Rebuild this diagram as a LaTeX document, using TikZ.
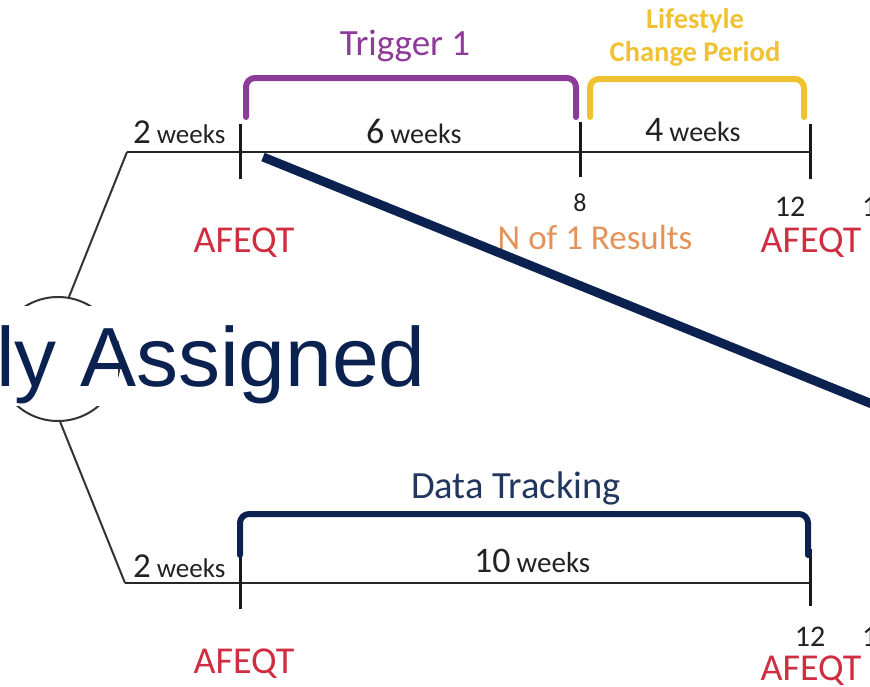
\documentclass[tikz,border=0pt]{standalone}
\usepackage{fontspec}
\setmainfont{Carlito}
\newfontfamily\arialf{Liberation Sans}
\definecolor{navy}{HTML}{0B2250}
\definecolor{navytxt}{HTML}{22375F}
\definecolor{trigpurple}{HTML}{8E3A98}
\definecolor{lifeyellow}{HTML}{F0C232}
\definecolor{afeqtred}{HTML}{CF2E40}
\definecolor{resorange}{HTML}{E3935A}
\definecolor{txtgrey}{HTML}{222222}
\newcommand{\fs}[1]{\fontsize{#1}{#1}\selectfont}
\tikzset{
  tline/.style={line width=2.5pt, black!85},
  tick/.style={line width=3pt, black!90},
  bracketline/.style={line width=6pt, rounded corners=9pt, line cap=round},
  wk/.style={anchor=base west, inner sep=0pt, text=txtgrey},
  lab/.style={anchor=base, inner sep=0pt},
}
\begin{document}
\begin{tikzpicture}[x=1pt,y=-1pt]
\useasboundingbox (0,0) rectangle (870,686);
\fill[white] (0,0) rectangle (870,686);
% coordinates
\coordinate (tA) at (127,152);
\coordinate (t2) at (240,152);
\coordinate (t8) at (580,152);
\coordinate (t12) at (810,152);
\coordinate (bA) at (125,583);
\coordinate (b2) at (240,583);
\coordinate (b12) at (810,583);
% circle
\node (circ) [circle, draw=black!80, line width=2pt, minimum size=124pt, inner sep=0pt] at (58,359) {};
\draw[line width=2pt, black!80] (tA) -- (circ.80);
\draw[line width=2pt, black!80] (circ.-88) -- (bA);
% top timeline
\draw[tline] (tA) -- (t12);
\draw[tick] ([yshift=-27pt]t2) -- ([yshift=28pt]t2);
\draw[tick] ([yshift=-25pt]t8) -- ([yshift=30pt]t8);
\draw[tick] ([yshift=-27pt]t12) -- ([yshift=28pt]t12);
% bottom timeline
\draw[tline] (bA) -- (b12);
\draw[tick] ([yshift=-26pt]b2) -- ([yshift=32pt]b2);
\draw[tick] ([yshift=-23pt]b12) -- ([yshift=34pt]b12);
% brackets
\draw[bracketline, trigpurple] (246,117) -- (246,78) -- (576,78) -- (576,117);
\draw[bracketline, lifeyellow] (590,117) -- (590,79) -- (804,79) -- (804,117);
\draw[bracketline, navy] (240,555) -- (240,514) -- (808,514) -- (808,555);
% labels top
\node (trig) [lab, text=trigpurple] at (405,55) {\fs{37}Trigger 1};
\node (life1) [lab, text=lifeyellow] at (695,28) {\fs{28.5}\bfseries Lifestyle};
\node (life2) [lab, text=lifeyellow] at (695,61) {\fs{28.5}\bfseries Change Period};
\node (w2) [wk] at (133,143) {\fs{35}2\,\fs{27}weeks};
\node (w6) [wk] at (366,143) {\fs{36}6\,\fs{28}weeks};
\node (w4) [wk] at (645,141) {\fs{36}4\,\fs{28}weeks};
\node (n8) [lab, text=txtgrey] at (580,211) {\fs{26}8};
\node (n12) [lab, text=txtgrey] at (790,216) {\fs{30}12};
\node (n1a) [wk] at (862,216) {\fs{30}1};
\node (af1) [lab, text=afeqtred] at (244,252) {\fs{38}AFEQT};
\node (res) [lab, text=resorange] at (595,249) {\fs{35}N of 1 Results};
\node (af2) [lab, text=afeqtred] at (811,252) {\fs{38}AFEQT};
% labels bottom
\node (dt) [lab, text=navytxt] at (516,498) {\fs{38.5}Data Tracking};
\node (bw2) [wk] at (133,577) {\fs{35}2\,\fs{27}weeks};
\node (w10) [wk] at (474,572) {\fs{36}10\,\fs{29}weeks};
\node (n12b) [lab, text=txtgrey] at (810,646) {\fs{30}12};
\node (n1b) [wk] at (862,646) {\fs{30}1};
\node (af3) [lab, text=afeqtred] at (244,673) {\fs{38}AFEQT};
\node (af4) [lab, text=afeqtred] at (811,680) {\fs{38}AFEQT};
% big text with white backing
\fill[white] (0,306) rectangle (118,406);
\node (assigned) [anchor=base west, inner sep=0pt, text=navy] at (-4,386) {\arialf\fs{84}ly Assigned};
% navy diagonal
\coordinate (dgA) at (263,157);
\coordinate (dgB) at (872,404);
\draw[navy, line width=9pt] (dgA) -- (dgB);
\end{tikzpicture}
\end{document}
